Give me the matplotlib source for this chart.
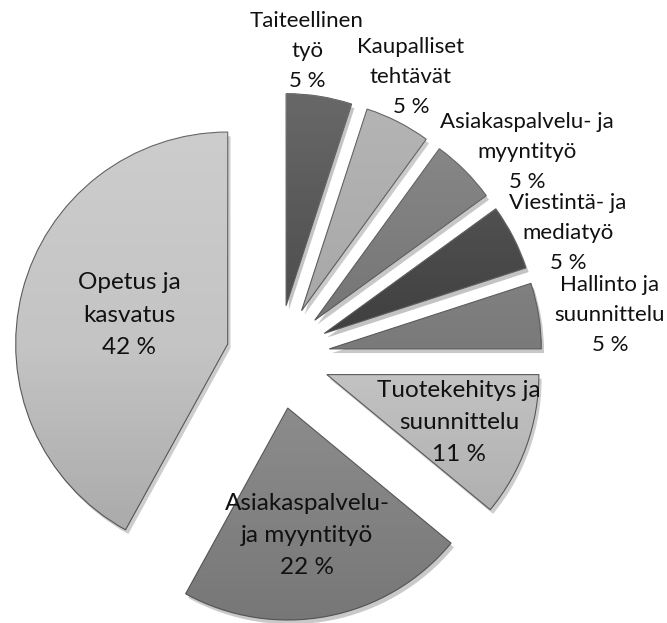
import numpy as np
import matplotlib
matplotlib.use("Agg")
import matplotlib.pyplot as plt
import matplotlib.patheffects as pe

# Exploded pie, grey bevelled slices, clockwise from 12 o'clock
names = ["Taiteellinen\ntyö", "Kaupalliset\ntehtävät", "Asiakaspalvelu- ja\nmyyntityö",
         "Viestintä- ja\nmediatyö", "Hallinto ja\nsuunnittelu", "Tuotekehitys ja\nsuunnittelu",
         "Asiakaspalvelu-\nja myyntityö", "Opetus ja\nkasvatus"]
shares = [5, 5, 5, 5, 5, 11, 22, 42]
slice_colors = ["#4e4e4e", "#a8a8a8", "#767676", "#404040", "#7a7a7a",
                "#c2c2c2", "#8c8c8c", "#c4c4c4"]

# label centres (in pie-radius units, relative to the pie centre)
label_pos = [(0.137, 1.443), (0.627, 1.321), (1.175, 0.967), (1.368, 0.585),
             (1.566, 0.198), (0.854, -0.311), (0.137, -0.844), (-0.703, 0.198)]
inside = [False] * 5 + [True] * 3

plt.rcParams['font.family'] = ['Lato', 'DejaVu Sans']

fig = plt.figure(figsize=(6.67, 6.23), dpi=100)
ax = fig.add_axes([0, 0, 1, 1])

wedges, _ = ax.pie(shares, colors=slice_colors, startangle=90, counterclock=False,
                   explode=[0.245] * len(shares), radius=1.0,
                   wedgeprops=dict(edgecolor="#5a5a5a", linewidth=0.8))

# soft shadow + light top-to-bottom shading on every slice
grad = np.zeros((256, 1, 4))
t = np.linspace(0, 1, 256)
grad[:, 0, :3] = np.where(t < 0.5, 1.0, 0.0)[:, None]
grad[:, 0, 3] = np.abs(t - 0.5) * 0.3
for w in wedges:
    w.set_path_effects([pe.SimplePatchShadow(offset=(2, -3), alpha=0.25), pe.Normal()])
    cx, cy = w.center
    r = w.r
    im = ax.imshow(grad, extent=(cx - r, cx + r, cy - r, cy + r), aspect="auto",
                   zorder=w.get_zorder() + 0.1, interpolation="bilinear")
    im.set_clip_path(w)

for name, v, (lx, ly), ins in zip(names, shares, label_pos, inside):
    ax.text(lx, ly, f"{name}\n{v} %", ha="center", va="center",
            fontsize=17.5 if ins else 16, color="#111111", linespacing=1.65, zorder=10)

ax.set_xlim(-278 / 212, (667 - 278) / 212)
ax.set_ylim(-(623 - 357) / 212, 357 / 212)
ax.axis("off")

fig.savefig("out.png", dpi=100)
